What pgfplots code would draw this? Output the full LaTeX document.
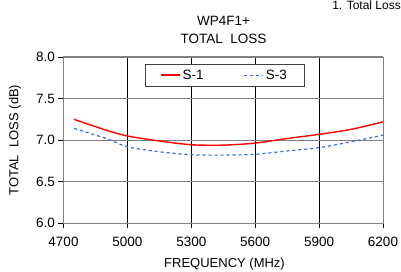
\documentclass[border=0pt]{standalone}
\usepackage{fontspec}
\setmainfont{Liberation Sans}
\usepackage{pgfplots}
\pgfplotsset{compat=1.18}
\definecolor{sblue}{RGB}{50,100,255}
\definecolor{sred}{RGB}{255,0,0}
\begin{document}
\begin{tikzpicture}[x=1pt,y=1pt]
\path[use as bounding box] (-63.5,-47.7) rectangle (337.5,223.3);
\begin{axis}[
  at={(0,0)}, anchor=south west,
  scale only axis, width=319.5pt, height=166.3pt,
  xmin=4700, xmax=6200, ymin=6.0, ymax=8.0,
  xtick={4700,5000,5300,5600,5900,6200},
  ytick={6.0,6.5,7.0,7.5,8.0},
  /pgf/number format/assume math mode=true,
  xticklabel style={/pgf/number format/set thousands separator={}, font=\fontsize{13.5}{15}\selectfont, yshift=-5pt},
  yticklabel style={/pgf/number format/fixed, /pgf/number format/fixed zerofill, /pgf/number format/precision=1, font=\fontsize{13.5}{15}\selectfont},
  tick align=outside, major tick length=5pt,
  tick style={black, line width=0.6pt},
  xtick pos=bottom, ytick pos=left,
  grid=major,
  x grid style={black, line width=0.7pt},
  y grid style={gray, line width=1.2pt},
  axis line style={gray, line width=1pt},
  xlabel={FREQUENCY (MHz)},
  ylabel={TOTAL\ \ LOSS (dB)},
  label style={font=\fontsize{13}{15}\selectfont},
  xlabel style={at={(axis description cs:0.504,-0.245)}, anchor=center},
  ylabel style={at={(axis description cs:-0.152,0.5)}, anchor=center},
  legend columns=2,
  legend style={at={(axis description cs:0.504,0.958)}, anchor=north, draw=darkgray,
     font=\fontsize{13.5}{15}\selectfont, inner xsep=15pt, inner ysep=3.5pt,
     /tikz/every even column/.append style={column sep=38pt}},
  legend image code/.code={\draw[#1] (0pt,0pt) -- (19pt,0pt);},
]
\addplot[color=sred, line width=1.4pt, smooth] coordinates {
(4750,7.25) (4900,7.12) (5000,7.05) (5150,6.99) (5300,6.945) (5450,6.94) (5600,6.965) (5750,7.02) (5900,7.07) (6050,7.13) (6200,7.22)};
\addlegendentry{S-1}
\addplot[color=sblue, line width=1.2pt, dash pattern=on 3pt off 3pt, smooth] coordinates {
(4750,7.14) (4900,7.02) (5000,6.92) (5150,6.86) (5300,6.825) (5450,6.82) (5600,6.83) (5750,6.87) (5900,6.91) (6050,6.98) (6200,7.06)};
\addlegendentry{S-3}
\end{axis}
\node[align=center, font=\fontsize{13.5}{17.5}\selectfont] at (160,193.5) {WP4F1+\\TOTAL\ \ LOSS};
\node[anchor=north east, font=\fontsize{12}{13}\selectfont, inner sep=0pt] at (337.5,222.3) {1. Total Loss};
\end{tikzpicture}
\end{document}
